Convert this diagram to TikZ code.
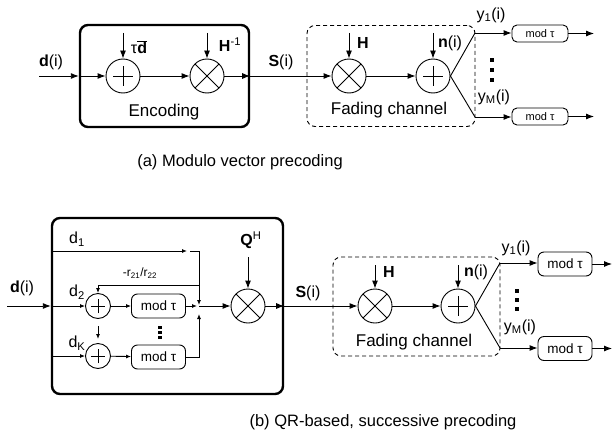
\documentclass[tikz,border=0pt]{standalone}
\usepackage{fontspec}
\setmainfont{Liberation Sans}
\usetikzlibrary{arrows.meta}
\begin{document}
\begin{tikzpicture}[x=1pt,y=-1pt, line width=0.9pt,
  big/.style={-{Latex[length=8pt,width=6pt]}},
  sml/.style={-{Latex[length=5pt,width=4pt]}},
  lab/.style={font=\fontsize{16}{18}\selectfont, inner sep=0pt},
  sublab/.style={font=\fontsize{12}{14}\selectfont, inner sep=0pt},
  ttl/.style={font=\fontsize{17}{19}\selectfont, inner sep=0pt},
  captext/.style={font=\fontsize{16.5}{19}\selectfont, inner sep=0pt},
  sumc/.style={circle, draw, minimum size=#1, inner sep=0pt,
    path picture={
      \draw ([xshift=-0.29*#1]path picture bounding box.center) -- ([xshift=0.29*#1]path picture bounding box.center);
      \draw ([yshift=-0.29*#1]path picture bounding box.center) -- ([yshift=0.29*#1]path picture bounding box.center);}},
  mulc/.style={circle, draw, minimum size=#1, inner sep=0pt,
    path picture={
      \draw (path picture bounding box.north west) -- (path picture bounding box.south east);
      \draw (path picture bounding box.south west) -- (path picture bounding box.north east);}},
  solidbox/.style={draw, line width=2.4pt, rounded corners=8pt, inner sep=0pt},
  dashbox/.style={draw, dashed, dash pattern=on 4pt off 3pt, rounded corners=8pt, inner sep=0pt},
  modS/.style={draw, rounded corners=5pt, minimum width=56pt, minimum height=17pt, inner sep=0pt, font=\fontsize{11}{12}\selectfont},
  modL/.style={draw, rounded corners=6pt, minimum width=54pt, minimum height=24pt, inner sep=0pt, font=\fontsize{13.5}{15}\selectfont},
]
\useasboundingbox (0,0) rectangle (612,436);

% ================= (a) =================
\node[solidbox, minimum width=169pt, minimum height=102pt] (enc) at (164.5,76) {};
\node[dashbox, minimum width=168pt, minimum height=101pt] (ach) at (391,76) {};
\node[ttl] (encl) at (164,112) {Encoding};
\node[ttl] (achl) at (389,110) {Fading channel};

\coordinate (ain) at (39,76);
\node[lab] (adl) at (51,62) {\textbf{d}(i)};
\node[sumc=34pt] (ap) at (123,76) {};
\node[mulc=34pt] (am) at (207,76) {};
\draw[big] (ain) -- (enc.west);
\draw[big] (enc.west) -- (ap);
\coordinate (atau) at (123,33);
\draw[big] (atau) -- (ap);
\node[lab] (atl) at (139,47) {τ$\overline{\mbox{\textbf{d}}}$};
\coordinate (ahi) at (207,33);
\draw[big] (ahi) -- (am);
\node[lab] (ahil) at (230,45) {\textbf{H}\textsuperscript{-1}};
\draw[big] (ap) -- (am);
\draw[big] (am) -- (enc.east);

\node[mulc=34pt] (am2) at (349,76) {};
\draw[big] (enc.east) -- (am2);
\node[lab] (asl) at (281,62) {\textbf{S}(i)};
\coordinate (ah) at (349,33);
\draw[big] (ah) -- (am2);
\node[lab] (ahl) at (363,43) {\textbf{H}};
\node[sumc=34pt] (ap2) at (433,76) {};
\draw[big] (am2) -- (ap2);
\coordinate (an) at (433,33);
\draw[big] (an) -- (ap2);
\node[lab] (anl) at (450,43) {\textbf{n}(i)};

\coordinate (asp1) at (475,33);
\coordinate (asp2) at (475,117);
\draw (ap2.east) -- (asp1);
\draw (ap2.east) -- (asp2);
\node[modS] (ao1) at (540,33.5) {mod τ};
\node[modS] (ao2) at (540,116.5) {mod τ};
\draw[big] (asp1) -- (ao1.west |- asp1);
\draw[big] (asp2) -- (ao2.west |- asp2);
\coordinate (aout1) at (594,33.5);
\coordinate (aout2) at (594,116.5);
\draw[big] (ao1) -- (aout1);
\draw[big] (ao2) -- (aout2);
\node[lab] (ay1) at (491,15) {y\textsubscript{1}(i)};
\node[lab] (aym) at (494,97) {y\textsubscript{M}(i)};
\fill (490.3,57.5) rectangle +(3.6,4);
\fill (490.3,67.5) rectangle +(3.6,4);
\fill (490.3,77.5) rectangle +(3.6,4);

\node[captext] (capa) at (240,162) {(a) Modulo vector precoding};

% ================= (b) =================
\node[solidbox, minimum width=231pt, minimum height=176pt] (bx) at (167.5,306) {};
\node[dashbox, minimum width=167pt, minimum height=99pt] (bch) at (416.5,306.5) {};
\node[ttl] (bchl) at (414,342) {Fading channel};

\coordinate (bin) at (7,306);
\node[lab] (bdl) at (22,288) {\textbf{d}(i)};
\draw[big] (bin) -- (bx.west);

% d1 path
\coordinate (bd1s) at (bx.west |- 0,251);
\coordinate (bd1e) at (187,251);
\coordinate (bd1b) at (190,251);
\coordinate (bj) at (199,306);
\draw[sml] (bd1s) -- (bd1e);
\draw[sml, shorten >=1pt] (bd1b) -| (bj);
\node[lab] (bd1l) at (77,239) {d\textsubscript{1}};

% d2 row
\node[sumc=25pt] (q1) at (98,306) {};
\node[modL] (b1) at (158.5,306) {mod τ};
\draw[sml] (bx.west) -- (q1);
\draw[sml] (q1) -- (b1);
\draw[sml, shorten >=2pt] (b1) -- (bj);
\coordinate (bfb) at (199,285);
\draw[sml] (bfb) -| (q1.north);
\node[sublab] (bfbl) at (140,273) {-r\textsubscript{21}/r\textsubscript{22}};
\node[lab] (bd2l) at (77,292) {d\textsubscript{2}};

% dK row
\coordinate (bdk) at (bx.west |- 0,356);
\node[sumc=25pt] (q2) at (98,356) {};
\node[modL] (b2) at (158.5,357) {mod τ};
\draw[sml] (bdk) -- (q2);
\draw[sml] (q2) -- (b2);
\coordinate (bka) at (98,326);
\coordinate (bkb) at (98,339);
\draw[sml] (bka) -- (bkb);
\draw[sml, shorten >=8pt] (b2.east) -| (bj);
\node[lab] (bdkl) at (77,343) {d\textsubscript{K}};
\fill (158.3,325.5) rectangle +(3.6,3.4);
\fill (158.3,330.5) rectangle +(3.6,3.4);
\fill (158.3,335.5) rectangle +(3.6,3.4);

% Q^H
\node[mulc=34pt] (m3) at (248,306) {};
\draw[big] (bj) -- (m3);
\coordinate (bq) at (248,257);
\draw[big] (bq) -- (m3);
\node[lab] (bql) at (251,240) {\textbf{Q}\textsuperscript{H}};
\draw[big] (m3) -- (bx.east);

% channel
\node[mulc=34pt] (m4) at (375,306) {};
\draw[big] (bx.east) -- (m4);
\node[lab] (bsl) at (308,293) {\textbf{S}(i)};
\coordinate (bh) at (375,265);
\draw[big] (bh) -- (m4);
\node[lab] (bhl) at (389,272) {\textbf{H}};
\node[sumc=34pt] (p3) at (458,306) {};
\draw[big] (m4) -- (p3);
\coordinate (bn) at (458,265);
\draw[big] (bn) -- (p3);
\node[lab] (bnl) at (476,272) {\textbf{n}(i)};

\coordinate (bsp1) at (500,263);
\coordinate (bsp2) at (500,348);
\draw (p3.east) -- (bsp1);
\draw (p3.east) -- (bsp2);
\node[modL] (o3) at (565,264) {mod τ};
\node[modL] (o4) at (565,348.5) {mod τ};
\draw[big] (bsp1) -- (o3.west |- bsp1);
\draw[big] (bsp2) -- (o4.west |- bsp2);
\coordinate (bout1) at (612,264);
\coordinate (bout2) at (612,348.5);
\draw[big] (o3) -- (bout1);
\draw[big] (o4) -- (bout2);
\node[lab] (by1) at (516,248) {y\textsubscript{1}(i)};
\node[lab] (bym) at (520,327) {y\textsubscript{M}(i)};
\fill (515.2,289) rectangle +(3.6,4);
\fill (515.2,298) rectangle +(3.6,4);
\fill (515.2,307) rectangle +(3.6,4);

\node[captext] (capb) at (383,422) {(b) QR-based, successive precoding};
\end{tikzpicture}
\end{document}
